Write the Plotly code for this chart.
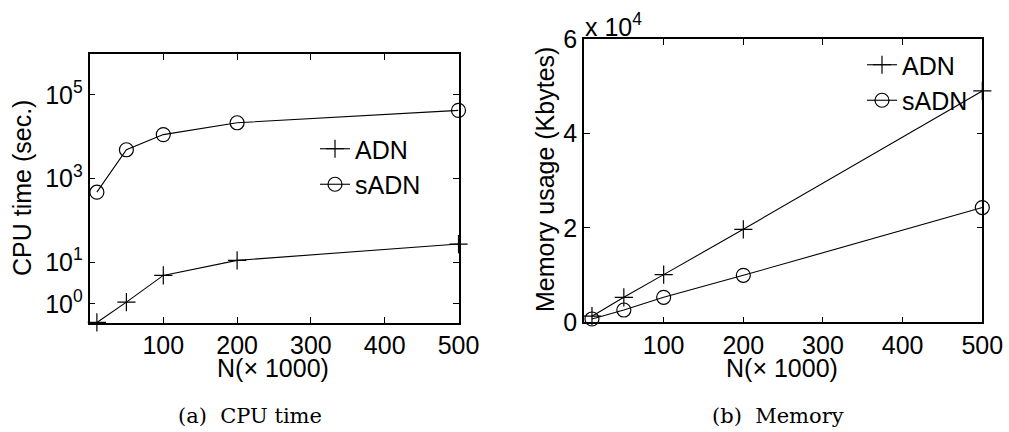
import plotly.graph_objects as go

N = [10, 50, 100, 200, 500]
cpu_adn = [0.36, 1.1, 4.8, 11, 27]
cpu_sadn = [470, 4860, 11200, 21500, 42500]
mem_adn = [1300, 5300, 10100, 19700, 49000]
mem_sadn = [700, 2600, 5300, 9950, 24300]

x_ticks = [100, 200, 300, 400, 500]
cpu_tickvals = [1, 10, 1000, 100000]
cpu_ticktext = ["10<sup>0</sup>", "10<sup>1</sup>", "10<sup>3</sup>", "10<sup>5</sup>"]
mem_tickvals = [0, 20000, 40000, 60000]
mem_ticktext = ["0", "2", "4", "6"]

FONT = "Liberation Sans, Arial, sans-serif"
SERIF = "DejaVu Serif, serif"
FS = 25

fig = go.Figure()

plus = dict(symbol="cross-thin", size=13, color="black", line=dict(color="black", width=1.2))
circ = dict(symbol="circle-open", size=14, color="black", line=dict(color="black", width=1.2))
lw = dict(color="black", width=1.1)

fig.add_trace(go.Scatter(x=N, y=cpu_adn, mode="lines+markers", name="ADN", line=lw,
                         marker=plus, cliponaxis=False, xaxis="x", yaxis="y", legend="legend"))
fig.add_trace(go.Scatter(x=N, y=cpu_sadn, mode="lines+markers", name="sADN", line=lw,
                         marker=circ, cliponaxis=False, xaxis="x", yaxis="y", legend="legend"))
fig.add_trace(go.Scatter(x=N, y=mem_adn, mode="lines+markers", name="ADN", line=lw,
                         marker=plus, cliponaxis=False, xaxis="x2", yaxis="y2", legend="legend2"))
fig.add_trace(go.Scatter(x=N, y=mem_sadn, mode="lines+markers", name="sADN", line=lw,
                         marker=circ, cliponaxis=False, xaxis="x2", yaxis="y2", legend="legend2"))

W, H = 1009, 432
def px(x): return x / W
def py(y): return 1 - y / H

axis_common = dict(showline=True, linecolor="black", linewidth=1.5, mirror="ticks", ticks="inside",
                   ticklen=6, tickcolor="black", tickwidth=1, showgrid=False, zeroline=False,
                   automargin=False, tickfont=dict(family=FONT, size=FS, color="black"))

def ann(text, x, y, angle=0, xa="center", ya="middle", font=None):
    return dict(text=text, x=px(x), y=py(y), xref="paper", yref="paper", textangle=angle,
                xanchor=xa, yanchor=ya, showarrow=False,
                font=font or dict(family=FONT, size=FS, color="black"))

cap_font = dict(family=SERIF, size=21, color="black")

fig.update_layout(
    width=W, height=H, margin=dict(l=0, r=0, t=0, b=0, autoexpand=False),
    paper_bgcolor="white", plot_bgcolor="white",
    font=dict(family=FONT, size=FS, color="black"),
    xaxis=dict(domain=[px(89.5), px(458.5)], range=[0, 500], tickvals=x_ticks, anchor="y", **axis_common),
    yaxis=dict(domain=[py(322.7), py(54.3)], type="log", range=[-0.45, 5.97], tickvals=cpu_tickvals,
               ticktext=cpu_ticktext, anchor="x", **axis_common),
    xaxis2=dict(domain=[px(584), px(982.3)], range=[0, 500], tickvals=x_ticks, anchor="y2", **axis_common),
    yaxis2=dict(domain=[py(322.3), py(39)], range=[0, 60000], tickvals=mem_tickvals,
                ticktext=mem_ticktext, anchor="x2", **axis_common),
    legend=dict(x=px(315), y=py(126), xanchor="left", yanchor="top", bgcolor="rgba(0,0,0,0)",
                font=dict(family=FONT, size=FS), itemwidth=30, tracegroupgap=0),
    legend2=dict(x=px(862), y=py(42), xanchor="left", yanchor="top", bgcolor="rgba(0,0,0,0)",
                 font=dict(family=FONT, size=FS), itemwidth=30, tracegroupgap=0),
    annotations=[
        ann("CPU time (sec.)", 22, 188, angle=-90),
        ann("N(× 1000)", 273, 368),
        ann("Memory usage (Kbytes)", 545, 180, angle=-90),
        ann("N(× 1000)", 782, 368),
        ann("x 10<sup>4</sup>", 583, 25, xa="left"),
        ann("(a)  CPU time", 250, 416, font=cap_font),
        ann("(b)  Memory", 778, 416, font=cap_font),
    ],
)

fig.write_html("out.html")
